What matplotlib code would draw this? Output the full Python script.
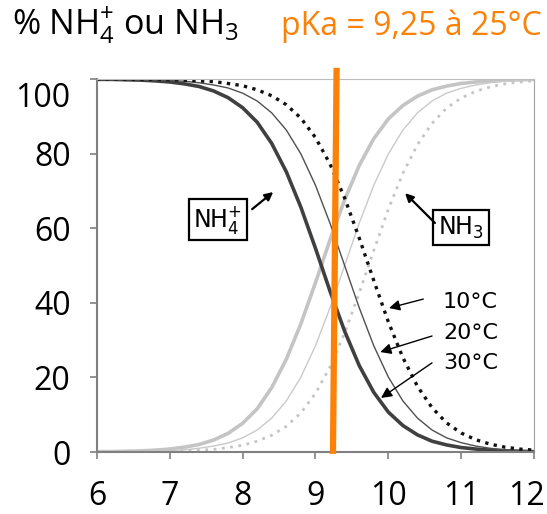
import matplotlib
matplotlib.use("Agg")
import matplotlib.pyplot as plt
from matplotlib.transforms import ScaledTranslation

# pH values (x axis)
ph = [6.0, 6.2, 6.4, 6.6, 6.8, 7.0, 7.2, 7.4, 7.6, 7.8, 8.0, 8.2, 8.4, 8.6, 8.8, 9.0,
      9.2, 9.4, 9.6, 9.8, 10.0, 10.2, 10.4, 10.6, 10.8, 11.0, 11.2, 11.4, 11.6, 11.8, 12.0]

# % NH4+
nh4_10 = [100.0, 100.0, 99.9, 99.9, 99.9, 99.8, 99.7, 99.5, 99.3, 98.8, 98.2, 97.1, 95.5, 93.1, 89.5, 84.3,
          77.2, 68.1, 57.4, 46.0, 34.9, 25.3, 17.6, 11.9, 7.8, 5.1, 3.3, 2.1, 1.3, 0.8, 0.5]
nh4_20 = [100.0, 99.9, 99.9, 99.8, 99.8, 99.6, 99.4, 99.0, 98.4, 97.6, 96.2, 94.1, 90.9, 86.3, 79.9, 71.5,
          61.3, 50.0, 38.7, 28.5, 20.1, 13.7, 9.1, 5.9, 3.8, 2.5, 1.6, 1.0, 0.6, 0.4, 0.3]
nh4_30 = [99.9, 99.9, 99.8, 99.7, 99.5, 99.2, 98.7, 98.0, 96.8, 95.0, 92.3, 88.4, 82.7, 75.1, 65.6, 54.6,
          43.1, 32.4, 23.2, 16.0, 10.7, 7.1, 4.6, 2.9, 1.9, 1.2, 0.8, 0.5, 0.3, 0.2, 0.1]

# % NH3
nh3_10 = [0.0, 0.0, 0.1, 0.1, 0.1, 0.2, 0.3, 0.5, 0.7, 1.2, 1.8, 2.9, 4.5, 6.9, 10.5, 15.7,
          22.8, 31.9, 42.6, 54.0, 65.1, 74.7, 82.4, 88.1, 92.2, 94.9, 96.7, 97.9, 98.7, 99.2, 99.5]
nh3_20 = [0.0, 0.1, 0.1, 0.2, 0.2, 0.4, 0.6, 1.0, 1.6, 2.4, 3.8, 5.9, 9.1, 13.7, 20.1, 28.5,
          38.7, 50.0, 61.3, 71.5, 79.9, 86.3, 90.9, 94.1, 96.2, 97.5, 98.4, 99.0, 99.4, 99.6, 99.7]
nh3_30 = [0.1, 0.1, 0.2, 0.3, 0.5, 0.8, 1.3, 2.0, 3.2, 5.0, 7.7, 11.6, 17.3, 24.9, 34.4, 45.4,
          56.9, 67.6, 76.8, 84.0, 89.3, 92.9, 95.4, 97.1, 98.1, 98.8, 99.2, 99.5, 99.7, 99.8, 99.9]

temp_labels = ["10°C", "20°C", "30°C"]
pka_line_x = [9.29, 9.24]
pka_line_y = [103, -0.5]

plt.rcParams['font.family'] = ['Open Sans', 'DejaVu Sans']

fig = plt.figure(figsize=(5.47, 5.14), dpi=100)
ax = fig.add_axes([0.1773, 0.1206, 0.7989, 0.7257])

# NH3 curves (light grey)
ax.plot(ph, nh3_30, color='#c4c4c4', lw=2.6, solid_capstyle='butt')
ax.plot(ph, nh3_20, color='#cacaca', lw=1.0)
ax.plot(ph, nh3_10, color='#c4c4c4', lw=2.0, linestyle=(0, (1, 2)))

# NH4+ curves (dark)
ax.plot(ph, nh4_30, color='#404040', lw=2.6)
ax.plot(ph, nh4_20, color='#505050', lw=1.0)
ax.plot(ph, nh4_10, color='#111111', lw=2.4, linestyle=(0, (1, 1.6)))

# pKa line
ax.plot(pka_line_x, pka_line_y, color='#fb8107', lw=4.5, clip_on=False, zorder=5,
        solid_capstyle='butt')

ax.set_xlim(6, 12)
ax.set_ylim(0, 100)
ax.set_xticks([6, 7, 8, 9, 10, 11, 12])
ax.set_yticks([0, 20, 40, 60, 80, 100])
ax.tick_params(axis='both', direction='out', length=5, width=1.2, color='#808080',
               labelsize=23, labelcolor='black')
ax.tick_params(axis='y', pad=14)
ax.tick_params(axis='x', pad=15)
ax.spines['left'].set_color('#808080')
ax.spines['left'].set_linewidth(1.5)
ax.spines['bottom'].set_color('#808080')
ax.spines['bottom'].set_linewidth(1.5)
ax.spines['top'].set_color('#bcbcbc')
ax.spines['right'].set_color('#a0a0a0')

# nudge the "12" and "100" labels like the original
lab12 = ax.get_xticklabels()[-1]
lab12.set_transform(lab12.get_transform() + ScaledTranslation(-0.08, 0, fig.dpi_scale_trans))
lab100 = ax.get_yticklabels()[-1]
lab100.set_transform(lab100.get_transform() + ScaledTranslation(0, -0.15, fig.dpi_scale_trans))

# boxed species labels with arrows
box = dict(boxstyle='square,pad=0.2', fc='white', ec='black', lw=1.6)
narrow = ['Liberation Sans Narrow', 'DejaVu Sans']
ax.text(7.66, 62.3, r'NH$_{\mathregular{4}}^{\mathregular{+}}$', ha='center', va='center',
        fontsize=17, family=narrow, bbox=box)
ax.text(11.0, 60.2, r'NH$_{\mathregular{3}}$', ha='center', va='center',
        fontsize=17, family=narrow, bbox=box)
arrow = dict(arrowstyle='-|>', color='black', lw=1.6, mutation_scale=12, shrinkA=0, shrinkB=0)
ax.annotate('', xy=(8.42, 69.7), xytext=(8.13, 65.1), arrowprops=arrow)
ax.annotate('', xy=(10.23, 69.4), xytext=(10.64, 61.4), arrowprops=arrow)

# temperature labels
thin_arrow = dict(arrowstyle='-|>', color='black', lw=1.0, mutation_scale=16, shrinkA=0, shrinkB=0)
temp_pos = [(10.74, 40.2), (10.75, 31.9), (10.75, 23.9)]
arrow_tail = [(10.48, 41.0), (10.60, 31.1), (10.60, 23.9)]
arrow_head = [(10.01, 38.6), (9.89, 26.8), (9.90, 14.5)]
for lab, pos, tail, head in zip(temp_labels, temp_pos, arrow_tail, arrow_head):
    ax.text(pos[0], pos[1], lab, ha='left', va='center', fontsize=16,
            family=['DejaVu Sans'])
    ax.annotate('', xy=head, xytext=tail, arrowprops=thin_arrow)

# titles above the chart
fig.text(12 / 547, 1 - 35 / 514, r'% NH$_{\mathregular{4}}^{\mathregular{+}}$ ou NH$_{\mathregular{3}}$',
         fontsize=24.5, color='black', ha='left', va='baseline')
fig.text(281 / 547, 1 - 35 / 514, 'pKa = 9,25 à 25°C', fontsize=23, color='#fb8107',
         ha='left', va='baseline')

fig.savefig('out.png', dpi=100)
